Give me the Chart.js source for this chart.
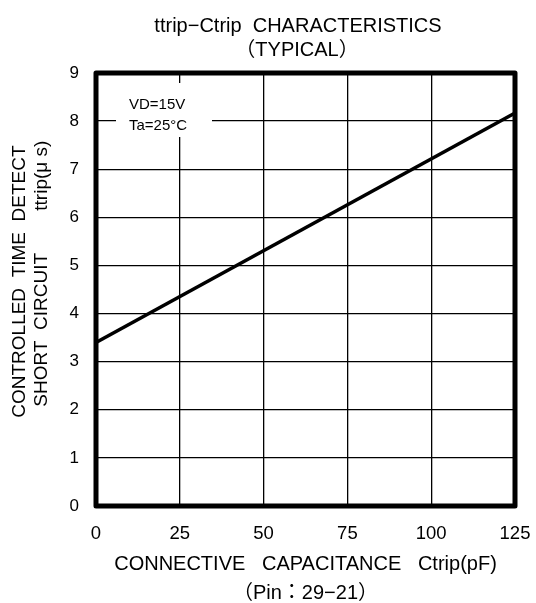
<!DOCTYPE html>
<html>
<head>
<meta charset="utf-8">
<script src="https://cdn.jsdelivr.net/npm/chart.js@4"></script>
<style>
  html, body { margin: 0; padding: 0; background: #fff; }
  #wrap { width: 536px; height: 603px; }
</style>
</head>
<body>
<div id="wrap"><canvas id="myChart" width="536" height="603"></canvas></div>
<script>
const capacitance = [0, 125];          // Ctrip (pF)
const ttrip = [3.4, 8.17];             // ttrip (us)
const xTicks = [0, 25, 50, 75, 100, 125];
const yTicks = [0, 1, 2, 3, 4, 5, 6, 7, 8, 9];
const titleLines = ['ttrip\u2212Ctrip  CHARACTERISTICS', '\uFF08TYPICAL\uFF09'];
const noteLines = ['VD=15V', 'Ta=25\u00B0C'];

const FONT = 'Arial, "Liberation Sans", "Noto Sans CJK JP", sans-serif';

// frame, title and the condition note
const decor = {
  id: 'decor',
  beforeDatasetsDraw(chart) {
    const { ctx, chartArea } = chart;
    ctx.save();
    ctx.fillStyle = '#fff';
    ctx.fillRect(chartArea.left + 20, chartArea.top + 10, 96, 54);
    ctx.fillStyle = '#000';
    ctx.font = '15px ' + FONT;
    ctx.textBaseline = 'middle';
    ctx.fillText(noteLines[0], chartArea.left + 33, chartArea.top + 32);
    ctx.fillText(noteLines[1], chartArea.left + 33, chartArea.top + 53);
    ctx.restore();
  },
  afterDraw(chart) {
    const { ctx, chartArea } = chart;
    ctx.save();
    ctx.strokeStyle = '#000';
    ctx.lineWidth = 5;
    ctx.lineJoin = 'round';
    ctx.strokeRect(chartArea.left, chartArea.top, chartArea.right - chartArea.left, chartArea.bottom - chartArea.top);
    ctx.fillStyle = '#000';
    ctx.font = '20px ' + FONT;
    ctx.textAlign = 'center';
    ctx.textBaseline = 'middle';
    ctx.fillText(titleLines[0], 298, 26);
    ctx.fillText(titleLines[1], 297, 50);
    ctx.restore();
  }
};

new Chart(document.getElementById('myChart'), {
  type: 'line',
  data: {
    datasets: [
      {
        data: capacitance.map((c, i) => ({ x: c, y: ttrip[i] })),
        borderColor: '#000',
        borderWidth: 3.5,
        pointRadius: 0,
        fill: false,
        tension: 0,
      },
    ],
  },
  options: {
    responsive: false,
    animation: false,
    layout: { padding: { top: 73, right: 21, left: 0, bottom: 0 } },
    plugins: {
      legend: { display: false },
      tooltip: { enabled: false },
    },
    scales: {
      x: {
        type: 'linear',
        min: 0,
        max: 125,
        afterBuildTicks: (axis) => { axis.ticks = xTicks.map((v) => ({ value: v })); },
        afterFit: (axis) => {
          axis.height = 97;
          axis.paddingLeft = 0;
          axis.paddingRight = 0;
        },
        grid: { color: '#000', lineWidth: 1.3, drawTicks: false },
        border: { display: false },
        ticks: { color: '#000', font: { size: 18.5, family: FONT }, padding: 17, maxRotation: 0 },
        title: {
          display: true,
          text: ['CONNECTIVE   CAPACITANCE   Ctrip(pF)', '\uFF08Pin\uFF1A29\u221221\uFF09'],
          color: '#000',
          font: { size: 20, family: FONT, lineHeight: 1.45 },
          padding: { top: 0, bottom: -4.5 },
        },
      },
      y: {
        type: 'linear',
        min: 0,
        max: 9,
        afterBuildTicks: (axis) => { axis.ticks = yTicks.map((v) => ({ value: v })); },
        afterFit: (axis) => { axis.width = 96; },
        grid: { color: '#000', lineWidth: 1.3, drawTicks: false },
        border: { display: false },
        ticks: { color: '#000', font: { size: 17, family: FONT }, padding: 17 },
        title: {
          display: true,
          text: ['   CONTROLLED  TIME  DETECT', '      SHORT  CIRCUIT        ttrip(\u03BC s)'],
          color: '#000',
          font: { size: 19, family: FONT, lineHeight: 1.16 },
          padding: { top: 9, bottom: 0 },
        },
      },
    },
  },
  plugins: [decor],
});
</script>
</body>
</html>
